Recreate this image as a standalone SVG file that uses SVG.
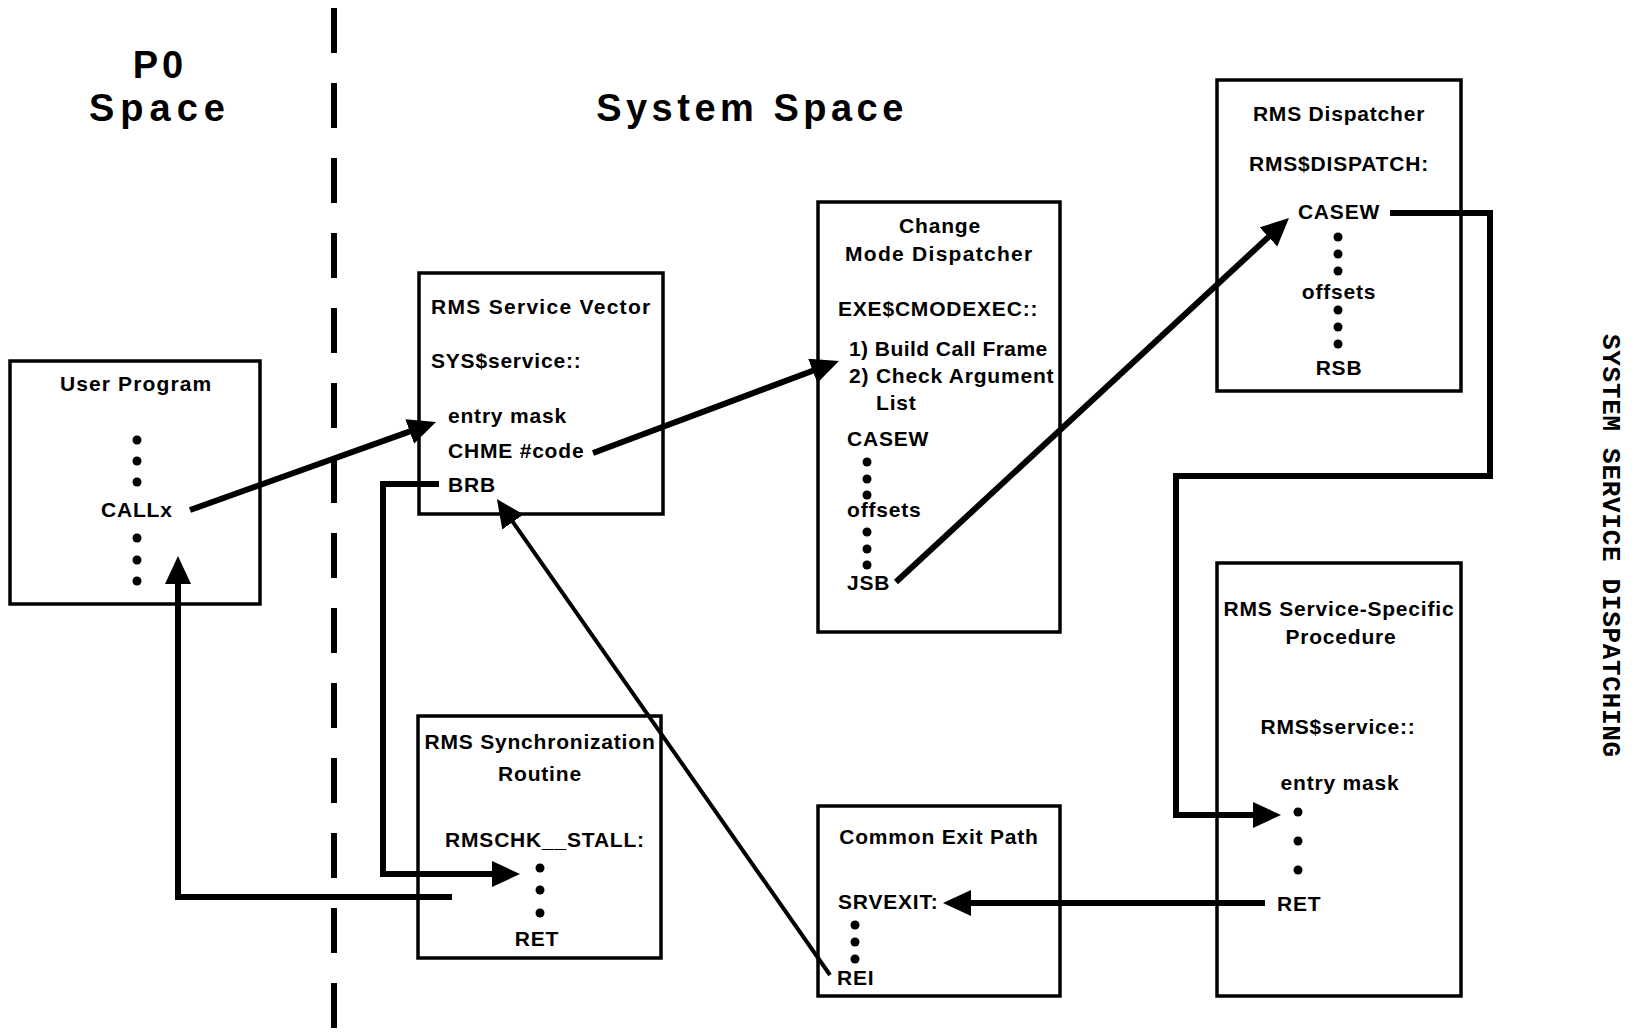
<svg xmlns="http://www.w3.org/2000/svg" width="1639" height="1033" viewBox="0 0 1639 1033">
<style>
.box{fill:none;stroke:#000;stroke-width:3.5}
.t{font-family:"Liberation Sans",Arial,sans-serif;font-weight:bold;font-size:21px;letter-spacing:0.8px;fill:#000}
.m{text-anchor:middle}
.big{font-family:"Liberation Sans",Arial,sans-serif;font-weight:bold;font-size:38px;fill:#000;text-anchor:middle}
.dot{fill:#000}
.c{fill:none;stroke:#000;stroke-width:6;stroke-linejoin:miter}
.thin{stroke-width:4}
.side{font-family:"Liberation Mono","Courier New",monospace;font-weight:bold;font-size:26px;letter-spacing:0.7px;fill:#000}
</style>
<defs>
<marker id="ah" markerUnits="userSpaceOnUse" markerWidth="30" markerHeight="28" refX="10" refY="13" orient="auto">
<path d="M0,0 L28,13 L0,26 z" fill="#000"/>
</marker>
</defs>
<rect width="1639" height="1033" fill="#fff"/>

<g id="labels">
<text class="big" x="160" y="78" style="letter-spacing:4px">P0</text>
<text class="big" x="160" y="121" style="letter-spacing:6px">Space</text>
<text class="big" x="752" y="121" style="letter-spacing:4.5px">System Space</text>
<text class="side" transform="translate(1603,334) rotate(90)">SYSTEM SERVICE DISPATCHING</text>
</g>

<line id="divider" x1="334" y1="8" x2="334" y2="1030" stroke="#000" stroke-width="6" stroke-dasharray="45 30"/>

<g id="user-program">
<rect class="box" x="10" y="361" width="250" height="243"/>
<text class="t" x="60" y="391" textLength="152" lengthAdjust="spacing">User Program</text>
<circle class="dot" cx="137" cy="440" r="4.5"/><circle class="dot" cx="137" cy="461" r="4.5"/><circle class="dot" cx="137" cy="482" r="4.5"/>
<text class="t" x="101" y="517">CALLx</text>
<circle class="dot" cx="137" cy="538" r="4.5"/><circle class="dot" cx="137" cy="560" r="4.5"/><circle class="dot" cx="137" cy="581" r="4.5"/>
</g>

<g id="rms-service-vector">
<rect class="box" x="419" y="273" width="244" height="241"/>
<text class="t" x="431" y="314" textLength="220" lengthAdjust="spacing">RMS Service Vector</text>
<text class="t" x="431" y="368">SYS$service::</text>
<text class="t" x="448" y="423">entry mask</text>
<text class="t" x="448" y="458">CHME #code</text>
<text class="t" x="448" y="492">BRB</text>
</g>

<g id="change-mode-dispatcher">
<rect class="box" x="818" y="202" width="242" height="430"/>
<text class="t m" x="940" y="233">Change</text>
<text class="t" x="845" y="261" textLength="188" lengthAdjust="spacing">Mode Dispatcher</text>
<text class="t" x="838" y="316">EXE$CMODEXEC::</text>
<text class="t" x="849" y="356" textLength="199" lengthAdjust="spacing">1) Build Call Frame</text>
<text class="t" x="849" y="383">2) Check Argument</text>
<text class="t" x="876" y="410">List</text>
<text class="t" x="847" y="446">CASEW</text>
<circle class="dot" cx="867" cy="462" r="4.5"/><circle class="dot" cx="867" cy="479" r="4.5"/><circle class="dot" cx="867" cy="495" r="4.5"/>
<text class="t" x="847" y="517">offsets</text>
<circle class="dot" cx="867" cy="532" r="4.5"/><circle class="dot" cx="867" cy="549" r="4.5"/><circle class="dot" cx="867" cy="565" r="4.5"/>
<text class="t" x="847" y="590">JSB</text>
</g>

<g id="rms-dispatcher">
<rect class="box" x="1217" y="80" width="244" height="311"/>
<text class="t m" x="1339" y="121">RMS Dispatcher</text>
<text class="t m" x="1339" y="171">RMS$DISPATCH:</text>
<text class="t m" x="1339" y="219">CASEW</text>
<circle class="dot" cx="1338" cy="237" r="4.5"/><circle class="dot" cx="1338" cy="254" r="4.5"/><circle class="dot" cx="1338" cy="271" r="4.5"/>
<text class="t m" x="1339" y="299">offsets</text>
<circle class="dot" cx="1338" cy="310" r="4.5"/><circle class="dot" cx="1338" cy="327" r="4.5"/><circle class="dot" cx="1338" cy="344" r="4.5"/>
<text class="t m" x="1339" y="375">RSB</text>
</g>

<g id="rms-service-specific">
<rect class="box" x="1217" y="563" width="244" height="433"/>
<text class="t m" x="1339" y="616">RMS Service-Specific</text>
<text class="t m" x="1341" y="644">Procedure</text>
<text class="t m" x="1338" y="734">RMS$service::</text>
<text class="t m" x="1340" y="790">entry mask</text>
<circle class="dot" cx="1298" cy="812" r="4.5"/><circle class="dot" cx="1298" cy="841" r="4.5"/><circle class="dot" cx="1298" cy="870" r="4.5"/>
<text class="t" x="1277" y="911">RET</text>
</g>

<g id="rms-synchronization">
<rect class="box" x="418" y="716" width="243" height="242"/>
<text class="t m" x="540" y="749">RMS Synchronization</text>
<text class="t m" x="540" y="781">Routine</text>
<text class="t m" x="545" y="847">RMSCHK__STALL:</text>
<circle class="dot" cx="540" cy="868" r="4.5"/><circle class="dot" cx="540" cy="890" r="4.5"/><circle class="dot" cx="540" cy="913" r="4.5"/>
<text class="t m" x="537" y="946">RET</text>
</g>

<g id="common-exit-path">
<rect class="box" x="818" y="806" width="242" height="190"/>
<text class="t m" x="939" y="844">Common Exit Path</text>
<text class="t" x="838" y="909">SRVEXIT:</text>
<circle class="dot" cx="855" cy="925" r="4.5"/><circle class="dot" cx="855" cy="942" r="4.5"/><circle class="dot" cx="855" cy="959" r="4.5"/>
<text class="t" x="837" y="985">REI</text>
</g>

<g id="connectors">
<path class="c" d="M190,510 L419.1,428.1" marker-end="url(#ah)"/>
<path class="c" d="M593,453 L822.1,367.3" marker-end="url(#ah)"/>
<path class="c" d="M896,582 L1275.8,230.2" marker-end="url(#ah)"/>
<path class="c" d="M1390,213 H1490 V476 H1176 V815 H1263" marker-end="url(#ah)"/>
<path class="c" d="M1265,903 H961" marker-end="url(#ah)"/>
<path class="c thin" d="M830,975 L507.2,513.8" marker-end="url(#ah)"/>
<path class="c" d="M439,484 H383 V874 H502" marker-end="url(#ah)"/>
<path class="c" d="M452,897 H178 V574" marker-end="url(#ah)"/>
</g>
</svg>
